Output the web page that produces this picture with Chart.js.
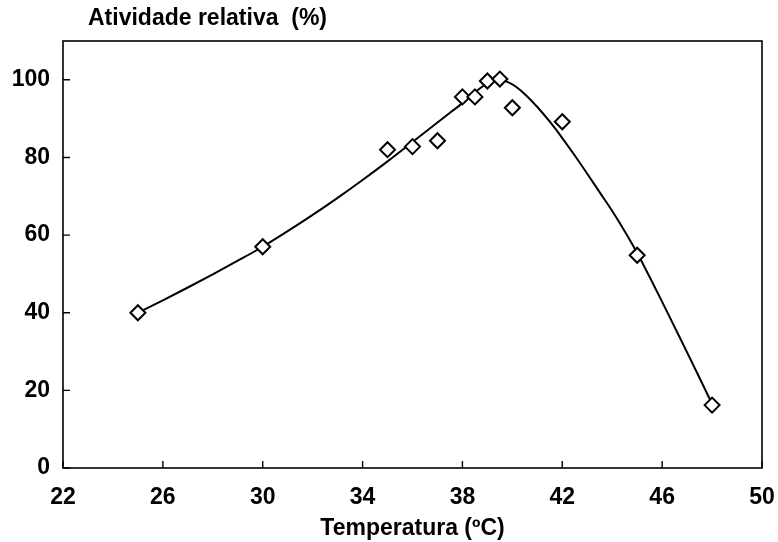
<!DOCTYPE html>
<html>
<head>
<meta charset="utf-8">
<script src="https://cdn.jsdelivr.net/npm/chart.js@4.4.1/dist/chart.umd.min.js"></script>
<style>
html,body{margin:0;padding:0;background:#fff;}
#wrap{width:778px;height:542px;position:relative;}
</style>
</head>
<body>
<div id="wrap"><canvas id="c" width="778" height="542"></canvas></div>
<script>
// Measured points
const tempPoints = [25, 30, 35, 36, 37, 38, 38.5, 39, 39.5, 40, 42, 45, 48];
const activityPoints = [40, 57, 82, 82.8, 84.3, 95.6, 95.6, 99.7, 100.2, 92.8, 89.2, 54.8, 16.2];
// Fitted curve
const curveTemp = [25, 26, 27, 28, 29, 30, 31, 32, 33, 34, 35, 36, 37, 37.5, 38, 38.5, 39, 39.5, 40, 40.5, 41, 41.5, 42, 42.5, 43, 43.5, 44, 44.5, 45, 45.5, 46, 46.5, 47, 47.5, 48];
const curveActivity = [40, 43.2, 46.5, 49.9, 53.4, 57, 61, 65.2, 69.6, 74.2, 79, 84, 89, 91.5, 94, 96.8, 99, 100, 98.8, 96.3, 93, 89.2, 85, 80.5, 75.8, 71, 66.2, 61, 55.4, 49.2, 42.8, 36.3, 29.8, 23.2, 16.5];
const xTicks = [22, 26, 30, 34, 38, 42, 46, 50];
const yTicks = [0, 20, 40, 60, 80, 100];
const yTitle = 'Atividade relativa  (%)';
const xTitle = 'Temperatura (ºC)';

const FONT = '"Liberation Sans", Arial, sans-serif';
const FS = 23;

const framePlugin = {
  id: 'frame',
  afterDraw(chart) {
    const ctx = chart.ctx;
    const a = chart.chartArea;
    const xs = chart.scales.x, ys = chart.scales.y;
    ctx.save();
    ctx.strokeStyle = '#000';
    ctx.lineWidth = 1.6;
    ctx.strokeRect(a.left, a.top, a.right - a.left, a.bottom - a.top);
    ctx.lineWidth = 1.4;
    ctx.beginPath();
    xTicks.forEach(v => {
      const px = xs.getPixelForValue(v);
      ctx.moveTo(px, a.bottom); ctx.lineTo(px, a.bottom - 7);
    });
    yTicks.forEach(v => {
      const py = ys.getPixelForValue(v);
      ctx.moveTo(a.left, py); ctx.lineTo(a.left + 7, py);
    });
    ctx.stroke();
    ctx.fillStyle = '#000';
    ctx.font = 'bold ' + FS + 'px ' + FONT;
    ctx.textAlign = 'left';
    ctx.textBaseline = 'middle';
    ctx.fillText(yTitle, 88, 19);
    ctx.restore();
  }
};

new Chart(document.getElementById('c'), {
  type: 'scatter',
  data: {
    datasets: [
      {
        label: 'pontos',
        data: tempPoints.map((t, i) => ({x: t, y: activityPoints[i]})),
        pointStyle: 'rectRot',
        pointRadius: 7.5,
        pointBorderWidth: 2,
        pointBorderColor: '#000',
        pointBackgroundColor: '#fff',
        showLine: false,
        order: 0
      },
      {
        label: 'curva',
        data: curveTemp.map((t, i) => ({x: t, y: curveActivity[i]})),
        showLine: true,
        borderColor: '#000',
        borderWidth: 2,
        pointRadius: 0,
        cubicInterpolationMode: 'monotone',
        order: 1
      }
    ]
  },
  options: {
    responsive: false,
    animation: false,
    layout: {padding: {top: 41, right: 16, left: 0, bottom: 0}},
    plugins: {legend: {display: false}, tooltip: {enabled: false}},
    scales: {
      x: {
        type: 'linear', min: 22, max: 50,
        afterBuildTicks(s) { s.ticks = xTicks.map(v => ({value: v})); },
        afterFit(s) { s.height = 74; s.paddingRight = 0; s.paddingLeft = 0; },
        grid: {display: false},
        border: {display: false},
        ticks: {color: '#000', font: {family: FONT, size: FS, weight: 'bold'}, padding: 8, maxRotation: 0},
        title: {display: true, text: xTitle, color: '#000', font: {family: FONT, size: FS, weight: 'bold'}, padding: {top: 4, bottom: 0}}
      },
      y: {
        type: 'linear', min: 0, max: 110,
        afterBuildTicks(s) { s.ticks = yTicks.map(v => ({value: v})); },
        afterFit(s) { s.width = 63; s.paddingTop = 0; s.paddingBottom = 0; },
        grid: {display: false},
        border: {display: false},
        ticks: {color: '#000', font: {family: FONT, size: FS, weight: 'bold'}, padding: 5}
      }
    }
  },
  plugins: [framePlugin]
});
</script>
</body>
</html>
